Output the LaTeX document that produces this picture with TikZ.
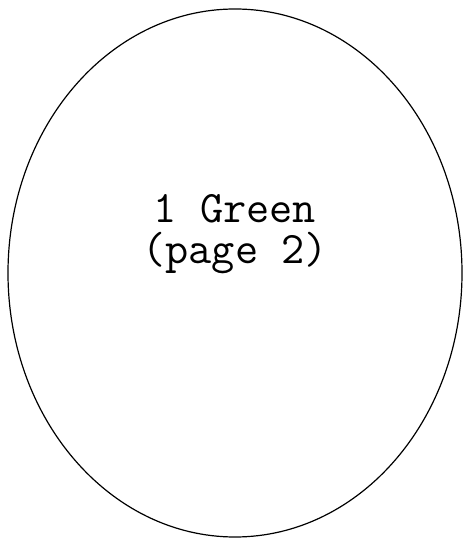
\documentclass[tikz,border=0pt]{standalone}
\usetikzlibrary{shapes.geometric}
\begin{document}
\begin{tikzpicture}[x=1pt,y=1pt,
  oval/.style={ellipse, draw, line width=1.2pt, minimum width=454pt, minimum height=528pt, inner sep=0pt},
  lbl/.style={font=\ttfamily\fontsize{45}{41}\selectfont, align=center, inner sep=0pt}]
\useasboundingbox (0,0) rectangle (463,538);
\node[oval] (n1) at (235,265) {};
\node[lbl] (t1) at (235,304) {1 Green\\(page 2)};
\end{tikzpicture}
\end{document}
